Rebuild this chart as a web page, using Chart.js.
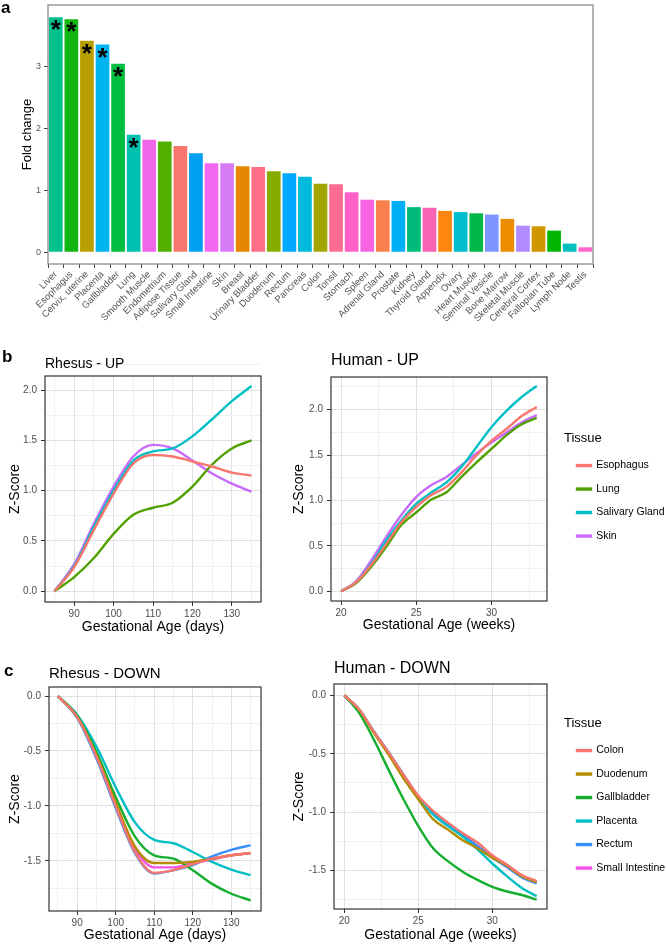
<!DOCTYPE html>
<html>
<head>
<meta charset="utf-8">
<script src="https://cdn.jsdelivr.net/npm/chart.js@4"></script>
<style>
  html, body { margin: 0; padding: 0; background: #fff; overflow: hidden; }
  #page { position: relative; width: 666px; height: 945px; overflow: hidden; }
  canvas { position: absolute; }
  .tag { position: absolute; font: bold 17px 'Liberation Sans', Arial, sans-serif; line-height: 17px; color: #000; }
</style>
</head>
<body>
<div id="page">
  <canvas id="barChart" width="600" height="336" style="left:0;top:0"></canvas>
  <canvas id="rhesusUp" width="272" height="295" style="left:0;top:345px"></canvas>
  <canvas id="humanUp" width="391" height="295" style="left:275px;top:345px"></canvas>
  <canvas id="rhesusDown" width="272" height="295" style="left:0;top:650px"></canvas>
  <canvas id="humanDown" width="391" height="295" style="left:275px;top:650px"></canvas>
  <div class="tag" style="left:1px;top:-1px">a</div>
  <div class="tag" style="left:2px;top:348px">b</div>
  <div class="tag" style="left:4px;top:662px">c</div>
</div>
<script>
// --------------------------------------------------------------------
// Data - panel a
// --------------------------------------------------------------------
const tissues = ['Liver', 'Esophagus', 'Cervix, uterine', 'Placenta', 'Gallbladder', 'Lung',
  'Smooth Muscle', 'Endometrium', 'Adipose Tissue', 'Salivary Gland', 'Small Intestine', 'Skin',
  'Breast', 'Urinary Bladder', 'Duodenum', 'Rectum', 'Pancreas', 'Colon', 'Tonsil', 'Stomach',
  'Spleen', 'Adrenal Gland', 'Prostate', 'Kidney', 'Thyroid Gland', 'Appendix', 'Ovary',
  'Heart Muscle', 'Seminal Vesicle', 'Bone Marrow', 'Skeletal Muscle', 'Cerebral Cortex',
  'Fallopian Tube', 'Lymph Node', 'Testis'];
const foldChange = [3.80, 3.77, 3.42, 3.36, 3.05, 1.90, 1.82, 1.79, 1.72, 1.60, 1.44, 1.44,
  1.39, 1.38, 1.31, 1.28, 1.22, 1.11, 1.10, 0.97, 0.85, 0.84, 0.83, 0.73, 0.72, 0.67, 0.65,
  0.63, 0.61, 0.54, 0.43, 0.42, 0.35, 0.14, 0.08];
const significant = [true, true, true, true, true, true, false, false, false, false, false, false,
  false, false, false, false, false, false, false, false, false, false, false, false, false, false,
  false, false, false, false, false, false, false, false, false];
const barColors = ['#00C08D', '#12B512', '#B99E00', '#00B4EF', '#00BF40', '#00C0AF',
  '#F066EA', '#53B000', '#F8766D', '#00A0F0', '#F067F0', '#D67BF5',
  '#E58700', '#FD6F86', '#86AC00', '#00A8FF', '#00BBDB', '#A3A500', '#FF6C91', '#FF61C9',
  '#F763E0', '#F8804D', '#00B0F6', '#00BB7A', '#F863B5', '#FF8511', '#00BDCC',
  '#00B84A', '#7D96FF', '#EE8C00', '#B08AFF', '#D09600',
  '#00B600', '#00C0BF', '#FF66CC'];
const foldTicks = [0, 1, 2, 3];

// --------------------------------------------------------------------
// Data - panels b and c
// --------------------------------------------------------------------
const rhesusDays = [85, 90, 95, 100, 105, 110, 115, 120, 125, 130, 135];
const humanWeeks = [20, 21, 22, 23, 24, 25, 26, 27, 28, 29, 30, 31, 32, 33];
const rhesusDayTicks = [85, 90, 95, 100, 105, 110, 115, 120, 125, 130, 135];
const humanWeekTicks = [20, 22.5, 25, 27.5, 30, 32.5];
const upTicks = [0, 0.25, 0.5, 0.75, 1, 1.25, 1.5, 1.75, 2, 2.25];
const downTicks = [-1.75, -1.5, -1.25, -1, -0.75, -0.5, -0.25, 0];

// Rhesus - UP
const rhUpEsophagus = [0, 0.24, 0.61, 0.97, 1.27, 1.355, 1.34, 1.29, 1.24, 1.18, 1.15];
const rhUpLung = [0, 0.14, 0.33, 0.57, 0.76, 0.83, 0.88, 1.04, 1.26, 1.42, 1.50];
const rhUpSalivary = [0, 0.25, 0.64, 1.00, 1.30, 1.39, 1.42, 1.54, 1.71, 1.89, 2.04];
const rhUpSkin = [0, 0.27, 0.67, 1.04, 1.34, 1.455, 1.42, 1.30, 1.17, 1.07, 0.99];

// Human - UP
const huUpEsophagus = [0, 0.10, 0.29, 0.52, 0.76, 0.93, 1.06, 1.15, 1.31, 1.50, 1.66, 1.79, 1.93, 2.03];
const huUpLung = [0, 0.09, 0.27, 0.49, 0.73, 0.87, 1.01, 1.09, 1.26, 1.42, 1.57, 1.72, 1.84, 1.91];
const huUpSalivary = [0, 0.10, 0.30, 0.56, 0.78, 0.965, 1.09, 1.20, 1.37, 1.59, 1.81, 1.99, 2.14, 2.26];
const huUpSkin = [0, 0.11, 0.34, 0.60, 0.84, 1.04, 1.17, 1.26, 1.39, 1.52, 1.64, 1.75, 1.86, 1.94];

// Rhesus - DOWN
const rhDnColon = [0, -0.19, -0.55, -1.00, -1.42, -1.61, -1.585, -1.53, -1.48, -1.45, -1.43];
const rhDnDuodenum = [0, -0.19, -0.54, -0.97, -1.37, -1.52, -1.52, -1.51, -1.48, -1.45, -1.43];
const rhDnGallbladder = [0, -0.18, -0.51, -0.92, -1.28, -1.45, -1.48, -1.585, -1.71, -1.80, -1.86];
const rhDnPlacenta = [0, -0.17, -0.46, -0.83, -1.15, -1.31, -1.34, -1.42, -1.51, -1.58, -1.63];
const rhDnRectum = [0, -0.20, -0.57, -1.02, -1.43, -1.615, -1.585, -1.54, -1.46, -1.40, -1.36];
const rhDnSmallInt = [0, -0.19, -0.55, -0.98, -1.39, -1.56, -1.56, -1.52, -1.49, -1.45, -1.43];

// Human - DOWN
const huDnColon = [0, -0.12, -0.31, -0.49, -0.68, -0.86, -0.99, -1.09, -1.18, -1.26, -1.37, -1.45, -1.54, -1.59];
const huDnDuodenum = [0, -0.12, -0.32, -0.51, -0.71, -0.89, -1.06, -1.15, -1.24, -1.31, -1.39, -1.46, -1.55, -1.60];
const huDnGallbladder = [0, -0.15, -0.38, -0.64, -0.89, -1.12, -1.31, -1.42, -1.51, -1.58, -1.64, -1.68, -1.71, -1.75];
const huDnPlacenta = [0, -0.12, -0.31, -0.49, -0.68, -0.87, -1.02, -1.12, -1.21, -1.32, -1.44, -1.55, -1.65, -1.72];
const huDnRectum = [0, -0.12, -0.31, -0.49, -0.68, -0.87, -1.01, -1.11, -1.20, -1.29, -1.39, -1.47, -1.56, -1.61];
const huDnSmallInt = [0, -0.12, -0.31, -0.49, -0.68, -0.87, -1.01, -1.11, -1.19, -1.29, -1.38, -1.47, -1.55, -1.60];

const upNames = ['Esophagus', 'Lung', 'Salivary Gland', 'Skin'];
const upColors = ['#F8766D', '#52A000', '#00BFC4', '#C86BFA'];
const downNames = ['Colon', 'Duodenum', 'Gallbladder', 'Placenta', 'Rectum', 'Small Intestine'];
const downColors = ['#F8766D', '#B38B00', '#13AE2E', '#00BFC4', '#3A8FFF', '#F550E8'];

// --------------------------------------------------------------------
// Helpers
// --------------------------------------------------------------------
Chart.defaults.font.family = "'Liberation Sans', Arial, sans-serif";
const FONT = Chart.defaults.font.family;

const isMult = (v, step) => Math.abs(v / step - Math.round(v / step)) < 1e-6;

// fix axis box size and drop the extra label margins chart.js adds
function fixBox(w, h) {
    return function (s) {
        if (w != null) s.width = w;
        if (h != null) s.height = h;
        s.paddingTop = s.paddingBottom = s.paddingLeft = s.paddingRight = 0;
    };
}

const panelBorder = {
    id: 'panelBorder',
    afterDatasetsDraw(chart, args, opts) {
        const { ctx, chartArea: a } = chart;
        ctx.save();
        ctx.strokeStyle = opts.color || '#333';
        ctx.lineWidth = opts.width || 1.2;
        ctx.strokeRect(a.left, a.top, a.right - a.left, a.bottom - a.top);
        ctx.restore();
    }
};

const starPlugin = {
    id: 'stars',
    afterDatasetsDraw(chart) {
        const meta = chart.getDatasetMeta(0);
        const ctx = chart.ctx;
        ctx.save();
        ctx.fillStyle = '#000';
        ctx.font = 'bold 26px ' + FONT;
        ctx.textAlign = 'center';
        ctx.textBaseline = 'alphabetic';
        meta.data.forEach((bar, i) => {
            if (significant[i]) ctx.fillText('*', bar.x, bar.y + 21);
        });
        ctx.restore();
    }
};

// --------------------------------------------------------------------
// a. Fold change bars
// --------------------------------------------------------------------
new Chart(document.getElementById('barChart'), {
    type: 'bar',
    data: {
        labels: tissues,
        datasets: [{
            data: foldChange,
            backgroundColor: barColors,
            barPercentage: 0.88,
            categoryPercentage: 1
        }]
    },
    options: {
        responsive: false,
        animation: false,
        layout: { padding: { top: 5, right: 7 } },
        plugins: {
            legend: { display: false },
            tooltip: { enabled: false },
            panelBorder: { color: '#8c8c8c', width: 1.3 }
        },
        scales: {
            x: {
                offset: true,
                afterFit: fixBox(null, 72),
                grid: { drawOnChartArea: false, tickLength: 4, tickColor: '#444' },
                border: { display: false },
                ticks: { autoSkip: false, minRotation: 45, maxRotation: 45, color: '#555', font: { size: 9.5 }, padding: 1 }
            },
            y: {
                min: -0.19,
                max: 4.0,
                afterBuildTicks: s => { s.ticks = foldTicks.map(v => ({ value: v })); },
                afterFit: fixBox(48, null),
                grid: { drawOnChartArea: false, tickLength: 4, tickColor: '#444' },
                border: { display: false },
                ticks: { color: '#555', font: { size: 9 }, padding: 3 },
                title: { display: true, text: 'Fold change', color: '#000', font: { size: 13 }, padding: { top: 20, bottom: 0 } }
            }
        }
    },
    plugins: [panelBorder, starPlugin]
});

// --------------------------------------------------------------------
// b / c. Z-score line panels
// --------------------------------------------------------------------
function zChart(id, cfg) {
    const majorX = v => isMult(v, cfg.xMajor);
    const majorY = v => isMult(v, 0.5);
    const scales = {
        x: {
            type: 'linear',
            min: cfg.xMin,
            max: cfg.xMax,
            afterBuildTicks: s => { s.ticks = cfg.xTicks.map(v => ({ value: v })); },
            afterFit: fixBox(null, cfg.xH),
            ticks: {
                autoSkip: false, maxRotation: 0, color: '#4d4d4d', font: { size: 10 }, padding: 2,
                callback: v => majorX(v) ? String(v) : ''
            },
            grid: {
                color: c => (c.tick && majorX(c.tick.value)) ? '#e0e0e0' : '#f0f0f0',
                tickColor: c => (c.tick && majorX(c.tick.value)) ? '#333' : 'rgba(0,0,0,0)',
                tickLength: 4
            },
            border: { display: false },
            title: { display: true, text: cfg.xTitle, color: '#000', font: { size: 14 }, padding: { top: 0, bottom: cfg.xtPad } }
        },
        y: {
            min: cfg.yMin,
            max: cfg.yMax,
            afterBuildTicks: s => { s.ticks = cfg.yTicks.map(v => ({ value: v })); },
            afterFit: fixBox(cfg.yW, null),
            ticks: {
                color: '#4d4d4d', font: { size: 10 }, padding: 4,
                callback: v => majorY(v) ? v.toFixed(1) : ''
            },
            grid: {
                color: c => (c.tick && majorY(c.tick.value)) ? '#e0e0e0' : '#f0f0f0',
                tickColor: c => (c.tick && majorY(c.tick.value)) ? '#333' : 'rgba(0,0,0,0)',
                tickLength: 4
            },
            border: { display: false },
            title: { display: true, text: 'Z-Score', color: '#000', font: { size: 14 }, padding: { top: cfg.ytPad, bottom: 0 } }
        }
    };
    if (cfg.legend) {
        // empty spacer axis between panel and legend
        scales.gap = {
            type: 'linear', axis: 'y', position: 'right', display: true,
            afterFit: fixBox(cfg.gap, null),
            ticks: { display: false }, grid: { display: false, drawTicks: false }, border: { display: false }
        };
    }
    return new Chart(document.getElementById(id), {
        type: 'line',
        data: {
            datasets: cfg.names.map((name, i) => ({
                label: name,
                data: cfg.xs.map((x, j) => ({ x: x, y: cfg.series[i][j] })),
                borderColor: cfg.colors[i],
                backgroundColor: cfg.colors[i],
                borderWidth: 2.4,
                pointRadius: 0,
                cubicInterpolationMode: 'monotone',
                fill: false
            }))
        },
        options: {
            responsive: false,
            animation: false,
            layout: { padding: { right: cfg.padRight || 0 } },
            plugins: {
                tooltip: { enabled: false },
                panelBorder: { color: '#333', width: 1.2 },
                title: {
                    display: true, text: cfg.title, align: 'start', fullSize: false, color: '#000',
                    font: { size: cfg.titleSize, weight: 'normal' }, padding: { top: cfg.tTop, bottom: cfg.tBottom }
                },
                legend: cfg.legend ? {
                    display: true, position: 'right', fullSize: false, align: 'center', maxWidth: 102,
                    title: { display: true, text: 'Tissue', position: 'start', color: '#000', font: { size: 13 }, padding: { top: cfg.legendShift, bottom: 0 } },
                    labels: { boxWidth: 14, boxHeight: 1, padding: 13, color: '#000', font: { size: 10.5 } }
                } : { display: false }
            },
            scales: scales
        },
        plugins: [panelBorder]
    });
}

zChart('rhesusUp', {
    title: 'Rhesus - UP', titleSize: 14, tTop: 10.6, tBottom: 3.6,
    xs: rhesusDays, series: [rhUpEsophagus, rhUpLung, rhUpSalivary, rhUpSkin],
    names: upNames, colors: upColors,
    xMin: 82.6, xMax: 137.4, xTicks: rhesusDayTicks, xMajor: 10,
    yMin: -0.107, yMax: 2.14, yTicks: upTicks,
    xTitle: 'Gestational Age (days)', xH: 38, xtPad: 4.6,
    yW: 45, ytPad: 6.6, padRight: 11
});

zChart('humanUp', {
    title: 'Human - UP', titleSize: 16, tTop: 6.4, tBottom: 6.4,
    xs: humanWeeks, series: [huUpEsophagus, huUpLung, huUpSalivary, huUpSkin],
    names: upNames, colors: upColors,
    xMin: 19.33, xMax: 33.68, xTicks: humanWeekTicks, xMajor: 5,
    yMin: -0.107, yMax: 2.36, yTicks: upTicks,
    xTitle: 'Gestational Age (weeks)', xH: 39, xtPad: 6.6,
    yW: 56, ytPad: 15.6, legend: true, gap: 17, legendShift: 8
});

zChart('rhesusDown', {
    title: 'Rhesus - DOWN', titleSize: 15, tTop: 15, tBottom: 4,
    xs: rhesusDays, series: [rhDnColon, rhDnDuodenum, rhDnGallbladder, rhDnPlacenta, rhDnRectum, rhDnSmallInt],
    names: downNames, colors: downColors,
    xMin: 82.7, xMax: 137.7, xTicks: rhesusDayTicks, xMajor: 10,
    yMin: -1.957, yMax: 0.082, yTicks: downTicks,
    xTitle: 'Gestational Age (days)', xH: 34, xtPad: 1.6,
    yW: 49, ytPad: 6.6, padRight: 11
});

zChart('humanDown', {
    title: 'Human - DOWN', titleSize: 16, tTop: 9.4, tBottom: 5.4,
    xs: humanWeeks, series: [huDnColon, huDnDuodenum, huDnGallbladder, huDnPlacenta, huDnRectum, huDnSmallInt],
    names: downNames, colors: downColors,
    xMin: 19.3, xMax: 33.7, xTicks: humanWeekTicks, xMajor: 5,
    yMin: -1.83, yMax: 0.098, yTicks: downTicks,
    xTitle: 'Gestational Age (weeks)', xH: 36, xtPad: 1.6,
    yW: 59, ytPad: 15.6, legend: true, gap: 17, legendShift: 10
});
</script>
</body>
</html>
